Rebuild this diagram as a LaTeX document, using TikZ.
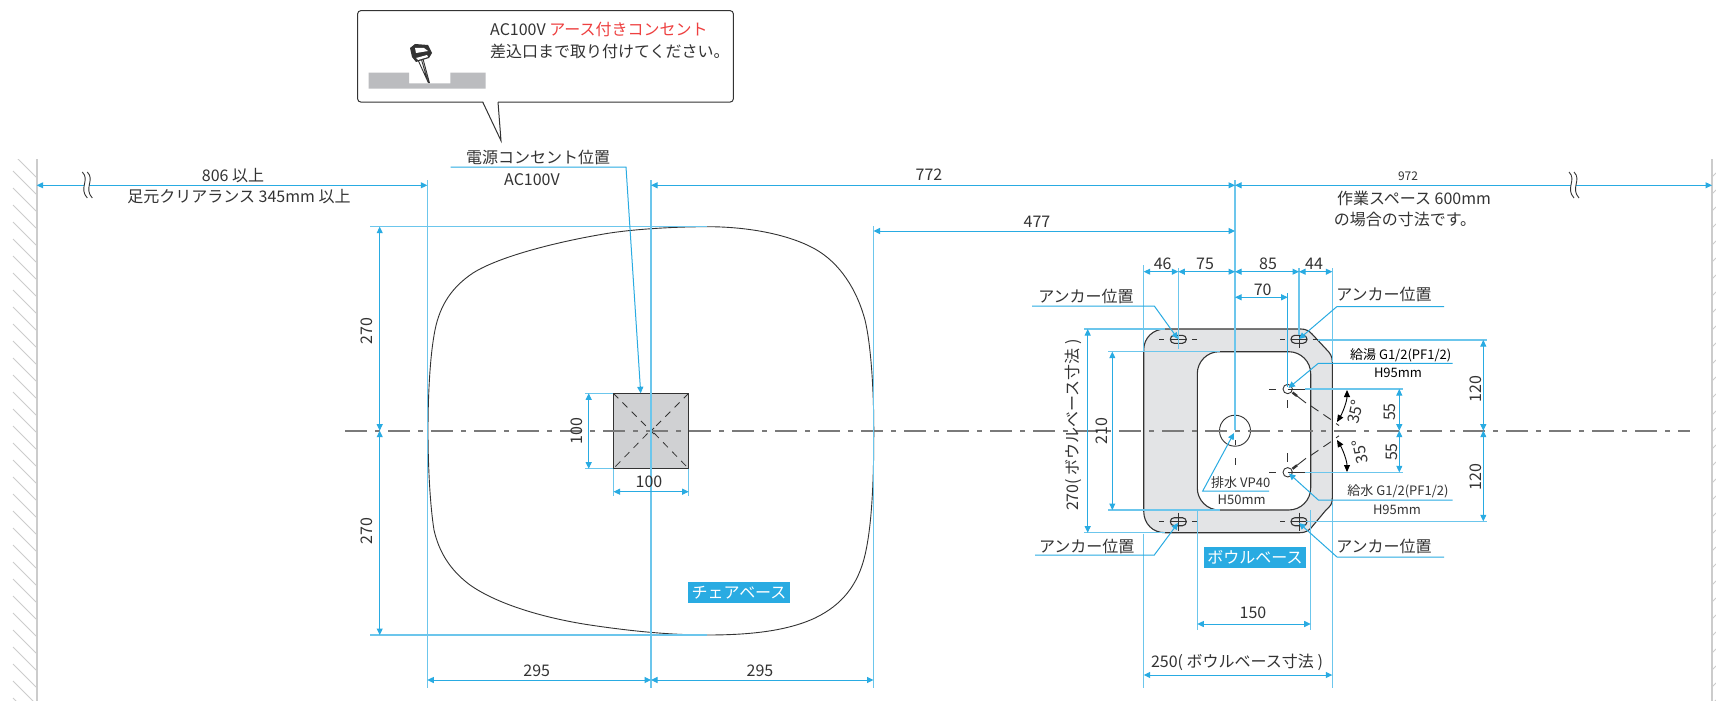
\documentclass[tikz,border=0pt]{standalone}
\usepackage{fontspec}
\setmainfont{Noto Sans CJK JP}
\usetikzlibrary{arrows.meta}
\definecolor{dimblue}{HTML}{29ABE2}
\definecolor{extblue}{HTML}{6CC6EC}
\definecolor{ink}{HTML}{333333}
\definecolor{basegray}{HTML}{E3E4E6}
\definecolor{squaregray}{HTML}{D0D1D3}
\definecolor{blockgray}{HTML}{BBBCBF}
\definecolor{wallgray}{HTML}{CCCCCC}
\definecolor{redtext}{HTML}{EE4040}
\tikzset{
  x=1pt,y=-1pt,
  dim/.style={draw=dimblue,line width=1pt,{Triangle[length=6.5pt,width=6pt]}-{Triangle[length=6.5pt,width=6pt]}},
  lead/.style={draw=dimblue,line width=1pt,-{Triangle[length=6.5pt,width=6pt]}},
  ext/.style={draw=extblue,line width=1.2pt},
  obj/.style={draw=ink,line width=1.1pt},
  thinobj/.style={draw=ink,line width=.9pt},
  lbl/.style={inner sep=0pt,text=ink,font=\fontsize{16}{18}\selectfont},
  sml/.style={inner sep=0pt,text=ink,font=\fontsize{13}{15}\selectfont},
  tag/.style={inner sep=0pt,fill=dimblue,text=white,minimum height=20.8pt,minimum width=102pt,font=\fontsize{16}{18}\selectfont},
  hatch/.style={draw=wallgray,line width=1pt},
  cline/.style={draw=black!52,line width=1.7pt,dash pattern=on 22pt off 8pt on 5pt off 8pt}
}
\newcommand{\brkmark}[1]{\begin{scope}[shift={(#1,0)}]
  \fill[white] (0,172) .. controls (8,180) and (-4,188) .. (5,198) -- (10,198) .. controls (1,188) and (13,180) .. (5,172) -- cycle;
  \draw[thinobj] (0,172) .. controls (8,180) and (-4,188) .. (5,198);
  \draw[thinobj] (5,172) .. controls (13,180) and (1,188) .. (10,198);
\end{scope}}
\newcommand{\slotmark}[2]{\begin{scope}[shift={(#1,#2)}]
  \draw[obj,rounded corners=3.9pt,fill=basegray] (-8,-4) rectangle (8,4);
  \draw[thinobj] (-8,0) -- (8,0) (0,-9) -- (0,9) (-19,0) -- (-14,0) (13.5,0) -- (18.5,0);
\end{scope}}
\begin{document}
\begin{tikzpicture}
\useasboundingbox (0,0) rectangle (1716,701);
\fill[white] (0,0) rectangle (1716,701);
% walls
\begin{scope}
\clip (0,159) rectangle (1716,701);
\foreach \k in {0,...,32} {
  \draw[hatch] (13,{154+17*\k}) -- (36,{177+17*\k});
  \draw[hatch] (1712,{177+17*\k}) -- (1716,{173+17*\k});
}
\end{scope}
\draw[wallgray,line width=2pt] (36.7,159) -- (36.7,701);
\draw[wallgray,line width=2pt] (1712,159) -- (1712,701);
% chair base
\draw[thinobj] (428,431) .. controls (428,395) and (430,355) .. (435,330)
  .. controls (440,305) and (452,287) .. (473,273)
  .. controls (500,256) and (560,241) .. (610,233)
  .. controls (640,228.5) and (680,226.7) .. (707,226.7)
  .. controls (750,226.7) and (790,235) .. (815,249)
  .. controls (840,263) and (857,290) .. (865,320)
  .. controls (871,345) and (873.8,390) .. (873.8,431)
  .. controls (873.8,480) and (872,525) .. (865,555)
  .. controls (858,585) and (842,605) .. (815,618)
  .. controls (785,632) and (745,635) .. (707,635)
  .. controls (670,635) and (630,631) .. (590,625)
  .. controls (550,619) and (500,606) .. (470,585)
  .. controls (450,570) and (439,552) .. (434,530)
  .. controls (430,505) and (428,465) .. (428,431) -- cycle;
% square
\draw[obj,fill=squaregray] (613.3,393.3) rectangle (688.7,468.7);
\draw[ink,line width=.8pt,dash pattern=on 7pt off 6pt] (613.3,393.3) -- (647.5,427.5) (647.5,433.5) -- (613.3,468.7);
\draw[ink,line width=.8pt,dash pattern=on 7pt off 6pt] (688.7,393.3) -- (654,428) (654,433) -- (688.7,468.7);
\draw[ink,line width=.8pt] (654,428) -- (651,431) -- (654,434);
% bowl base
\path[fill=basegray] (1165,329) -- (1301,329) .. controls (1306,329) and (1309,331) .. (1312,334) -- (1326,349) .. controls (1330,353) and (1332.3,356) .. (1332.3,362) -- (1332.3,498) .. controls (1332.3,505) and (1330,506) .. (1326,510) -- (1311,528) .. controls (1308,531) and (1305,532.7) .. (1300,532.7) -- (1165,532.7) .. controls (1153,532.7) and (1143.7,524) .. (1143.7,511) -- (1143.7,350) .. controls (1143.7,338) and (1153,329) .. (1165,329) -- cycle;
\draw[obj,fill=white,rounded corners=22pt] (1197.3,351.7) rectangle (1310.7,510);
\draw[obj] (1165,329) -- (1301,329) .. controls (1306,329) and (1309,331) .. (1312,334) -- (1326,349) .. controls (1330,353) and (1332.3,356) .. (1332.3,362) -- (1332.3,498) .. controls (1332.3,505) and (1330,506) .. (1326,510) -- (1311,528) .. controls (1308,531) and (1305,532.7) .. (1300,532.7) -- (1165,532.7) .. controls (1153,532.7) and (1143.7,524) .. (1143.7,511) -- (1143.7,350) .. controls (1143.7,338) and (1153,329) .. (1165,329) -- cycle;
\slotmark{1178.3}{339.3}
\slotmark{1299}{339.3}
\slotmark{1178.3}{521.7}
\slotmark{1299}{521.7}
% drain and holes
\draw[thinobj] (1235,430.7) circle (15.5);
\draw[thinobj] (1235,398) -- (1235,404) (1235,440) -- (1235,445) (1235,458) -- (1235,465);
\foreach \yy/\s in {389/1,472.3/-1} {
  \draw[thinobj] (1287.7,\yy) circle (4.7);
  \draw[thinobj] (1269,\yy) -- (1276,\yy);
  \draw[thinobj] (1287.7,\yy) -- (1305,\yy);
  \draw[thinobj] (1287.7,{\yy+\s*11}) -- (1287.7,{\yy+\s*19});
  \draw[ink,line width=2.4pt] (1292.5,{\yy+\s*3.5}) -- (1297,{\yy+\s*7});
  \draw[thinobj] (1297,{\yy+\s*7}) -- (1306,{\yy+\s*14});
  \draw[thinobj,dash pattern=on 9pt off 6pt] (1311,{\yy+\s*17}) -- (1333,{\yy+\s*32});
  \draw[thinobj] (1336,{\yy+\s*34.5}) -- (1339,{\yy+\s*36.5});
}
\draw[thinobj] (1287.7,453) -- (1287.7,461.5);
% centre line
\draw[cline] (345,430.7) -- (1690,430.7);
% extension lines
\draw[ext] (427.3,180) -- (427.3,688);
\draw[ext] (651,180) -- (651,688);
\draw[ext] (873.5,226) -- (873.5,688);
\draw[ext] (370,226.7) -- (707,226.7);
\draw[ext] (370,635) -- (707,635);
\draw[ext] (585,393.3) -- (613.3,393.3);
\draw[ext] (585,468.7) -- (613.3,468.7);
\draw[ext] (613.5,468.7) -- (613.5,496);
\draw[ext] (688.7,468.7) -- (688.7,496);
\draw[ext] (1235,180) -- (1235,430);
\draw[ext] (1143.7,265) -- (1143.7,352);
\draw[ext] (1143.7,533.5) -- (1143.7,688);
\draw[ext] (1332.3,268) -- (1332.3,362);
\draw[ext] (1332.3,502) -- (1332.3,688);
\draw[ext] (1178.3,268) -- (1178.3,349);
\draw[ext] (1299,268) -- (1299,335);
\draw[dimblue,line width=1pt] (1287.7,293) -- (1287.7,387);
\draw[ext] (1197.3,510) -- (1197.3,630);
\draw[ext] (1310.7,510) -- (1310.7,630);
\draw[ext] (1084,329) -- (1165,329);
\draw[ext] (1084,532.7) -- (1165,532.7);
\draw[ext] (1108,351.7) -- (1220,351.7);
\draw[ext] (1108,510) -- (1220,510);
\draw[ext] (1318,340) -- (1487,340);
\draw[ext] (1306,521.3) -- (1487,521.3);
\draw[ext] (1305,389) -- (1402.7,389);
\draw[ext] (1305,472.3) -- (1402.7,472.3);
% dimensions
\draw[dim] (36.7,185.3) -- (427.3,185.3);
\draw[dim] (651,185.3) -- (1235,185.3);
\draw[dim] (1235,185.3) -- (1712,185.3);
\draw[dim] (873.5,231) -- (1235,231);
\draw[dim] (379.7,226.7) -- (379.7,430.7);
\draw[dim] (379.7,430.7) -- (379.7,635);
\draw[dim] (427.3,680) -- (651,680);
\draw[dim] (651,680) -- (873.5,680);
\draw[dim] (588.7,393.3) -- (588.7,468.7);
\draw[dim] (613.5,491.7) -- (688.7,491.7);
\draw[dim] (1143.7,271.7) -- (1178.3,271.7);
\draw[dim] (1178.3,271.7) -- (1235,271.7);
\draw[dim] (1235,271.7) -- (1299,271.7);
\draw[dim] (1299,271.7) -- (1332.3,271.7);
\draw[dim] (1235,297.3) -- (1287.7,297.3);
\draw[dim] (1087.7,329) -- (1087.7,532.7);
\draw[dim] (1112.3,351.7) -- (1112.3,510);
\draw[dim] (1197.3,624) -- (1310.7,624);
\draw[dim] (1143.7,675) -- (1332.3,675);
\draw[dim] (1483.3,340) -- (1483.3,430.7);
\draw[dim] (1483.3,430.7) -- (1483.3,521.3);
\draw[dim] (1399.3,389) -- (1399.3,430.7);
\draw[dim] (1399.3,430.7) -- (1399.3,472.3);
% leaders
\draw[lead] (450.7,167) -- (626,167) -- (640.7,393.3);
\draw[lead] (1032,306) -- (1154.3,306) -- (1178,339);
\draw[lead] (1444,306.5) -- (1337,306.5) -- (1299,339);
\draw[lead] (1035,555) -- (1154.3,555) -- (1178,523);
\draw[lead] (1444,557) -- (1337,557) -- (1299,523);
\draw[lead] (1269,491) -- (1202.7,491) -- (1234,433);
\draw[lead] (1452.7,363.3) -- (1318.3,363.3) -- (1288.5,388);
\draw[lead] (1452.7,500) -- (1318.3,500) -- (1289,473.5);
% angle arrows
\draw[black,line width=.9pt,{Triangle[length=7pt,width=6pt]}-{Triangle[length=7pt,width=6pt]}] (1347,390) .. controls (1347,401) and (1343,412) .. (1337,422);
\draw[black,line width=.9pt,{Triangle[length=7pt,width=6pt]}-{Triangle[length=7pt,width=6pt]}] (1347,472) .. controls (1347,461) and (1343,450) .. (1337,440);
% break marks
\brkmark{82.3}
\brkmark{1569}
% callout
\draw[obj,line width=1pt,fill=white,rounded corners=3pt] (357.7,10.7) rectangle (733.3,102);
\fill[white] (483,101) -- (501,140.7) -- (498,101) -- cycle;
\draw[ink,line width=1pt] (482.7,102) -- (501,140.7) -- (498,102);
\fill[blockgray] (368.7,72.7) -- (409,72.7) -- (409,83.3) -- (450.3,83.3) -- (450.3,72.7) -- (485.7,72.7) -- (485.7,88.7) -- (368.7,88.7) -- cycle;
\draw[ink,line width=.9pt] (418,60) -- (428.5,83) (423,59) -- (429.5,83) (421,58) -- (428,82);
\fill[ink] (410,48) -- (415,44) -- (428,45) -- (432,53) -- (429,58) -- (416,62) -- (412,57) -- cycle;
\fill[white] (415,48) -- (424,48) -- (428,51) -- (416,53) -- cycle;
\fill[white] (416,58) -- (427,55) -- (428,57) -- (418,60) -- cycle;
% tags
\node[tag] (bowltag) at (1255,557.4) {ボウルベース};
\node[tag] (chairtag) at (739,592.5) {チェアベース};
% labels
\node[lbl,anchor=west] (power1) at (490,29) {AC100V \textcolor{redtext}{アース付きコンセント}};
\node[lbl,anchor=west] (power2) at (490,51.5) {差込口まで取り付けてください。};
\node[lbl] (plug) at (538,157) {電源コンセント位置};
\node[lbl] (plugv) at (532,180) {AC100V};
\node[lbl] (a806) at (233,176) {806 以上};
\node[lbl] (clear) at (239,197) {足元クリアランス 345mm 以上};
\node[lbl] (a772) at (929,175) {772};
\node[inner sep=0pt,text=ink,font=\fontsize{12}{14}\selectfont] (a972) at (1408,176) {972};
\node[lbl] (work1) at (1414,198.5) {作業スペース 600mm};
\node[lbl] (work2) at (1405,219) {の場合の寸法です。};
\node[lbl] (a477) at (1037,222) {477};
\node[lbl,rotate=90] (l270a) at (367,331) {270};
\node[lbl,rotate=90] (l270b) at (367,531) {270};
\node[lbl] (r295a) at (536.7,671) {295};
\node[lbl] (r295b) at (760,671) {295};
\node[lbl,rotate=90] (s100a) at (577,430.7) {100};
\node[lbl] (s100b) at (649,482) {100};
\node[lbl] (d46) at (1162.7,263.5) {46};
\node[lbl] (d75) at (1205,263.5) {75};
\node[lbl] (d85) at (1268,263.5) {85};
\node[lbl] (d44) at (1314,263.5) {44};
\node[lbl] (d70) at (1262.7,290) {70};
\node[lbl] (anc1) at (1086,296) {アンカー位置};
\node[lbl] (anc2) at (1384,294.5) {アンカー位置};
\node[lbl] (anc3) at (1086.7,546) {アンカー位置};
\node[lbl] (anc4) at (1384,546) {アンカー位置};
\node[lbl,rotate=90] (b270) at (1073.6,425) {270( ボウルベース寸法 )};
\node[lbl,rotate=90] (b210) at (1102,430.7) {210};
\node[lbl] (b150) at (1253,613) {150};
\node[lbl] (b250) at (1237,662) {250( ボウルベース寸法 )};
\node[lbl,rotate=90] (r120a) at (1476,389) {120};
\node[lbl,rotate=90] (r120b) at (1476,477) {120};
\node[lbl,rotate=90] (r55a) at (1390,412) {55};
\node[lbl,rotate=90] (r55b) at (1392,452) {55};
\node[lbl,rotate=78] (ang1) at (1355,412) {35°};
\node[lbl,rotate=102] (ang2) at (1360,452) {35°};
\node[sml,text=black] (hot) at (1400.7,355) {給湯 G1/2(PF1/2)};
\node[sml,text=black] (hoth) at (1398,373) {H95mm};
\node[sml] (cold) at (1398,491.7) {給水 G1/2(PF1/2)};
\node[sml] (coldh) at (1397,510) {H95mm};
\node[sml] (drain) at (1240.7,483) {排水 VP40};
\node[sml] (drainh) at (1241.7,500) {H50mm};
\end{tikzpicture}
\end{document}
